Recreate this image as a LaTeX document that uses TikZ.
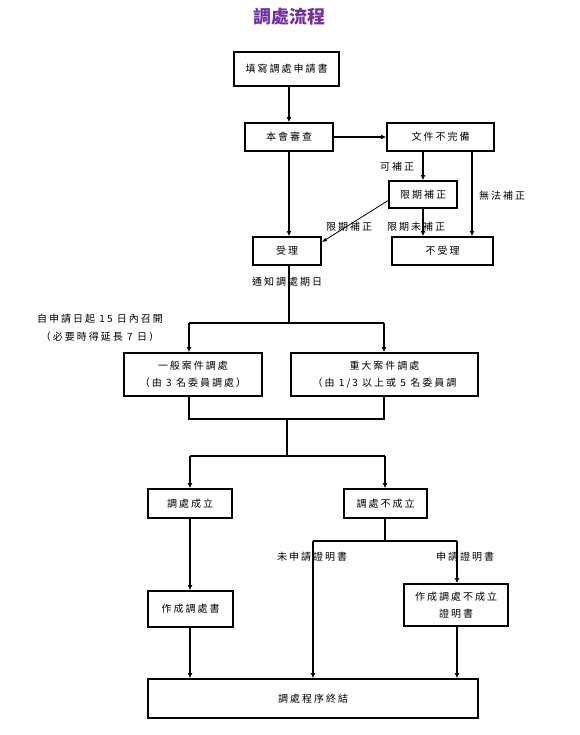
\documentclass[tikz,border=0pt]{standalone}
\usepackage{fontspec}
\usetikzlibrary{arrows.meta}
\newfontfamily\cjk[LetterSpace=20]{Noto Sans CJK TC}
\newfontfamily\cjktitle{Noto Sans CJK TC}
\definecolor{titlepurple}{HTML}{7030A0}
\begin{document}
\begin{tikzpicture}[x=1pt,y=-1pt,
  box/.style={draw,line width=1.8pt,inner sep=0pt,align=center,
    font=\cjk\fontsize{10}{17}\selectfont},
  lbl/.style={inner sep=0pt,align=center,font=\cjk\fontsize{10}{18}\selectfont},
  conn/.style={line width=1.3pt},
  arr/.style={conn,-{Latex[length=5pt,width=5pt]}},
  thinarr/.style={line width=0.8pt,-{Latex[length=5pt,width=4pt]}}]
\useasboundingbox (0,0) rectangle (579,735);
% title
\node[inner sep=0pt,text=titlepurple,font=\cjktitle\bfseries\fontsize{18}{20}\selectfont] (title) at (289,17) {調處流程};
% boxes
\node[box,minimum width=105pt,minimum height=34pt] (fill) at (286.5,69) {填寫調處申請書};
\node[box,minimum width=88pt,minimum height=28pt] (review) at (289,137) {本會審查};
\node[box,minimum width=107pt,minimum height=28pt] (incomplete) at (440.5,137) {文件不完備};
\node[box,minimum width=68pt,minimum height=27pt] (correct) at (423,194.5) {限期補正};
\node[box,minimum width=101pt,minimum height=28pt] (reject) at (442.5,251) {不受理};
\node[box,minimum width=68pt,minimum height=28pt] (accept) at (287,251) {受理};
\node[box,minimum width=138pt,minimum height=43pt] (general) at (193,374.5) {一般案件調處\\（由 3 名委員調處）};
\node[box,minimum width=187pt,minimum height=43pt] (major) at (384.5,374.5) {重大案件調處\\（由 1/3 以上或 5 名委員調};
\node[box,minimum width=84pt,minimum height=29pt] (success) at (190,503.5) {調處成立};
\node[box,minimum width=83pt,minimum height=29pt] (fail) at (385.5,503.5) {調處不成立};
\node[box,minimum width=85pt,minimum height=36pt] (makebook) at (190.5,609) {作成調處書};
\node[box,minimum width=104pt,minimum height=42pt] (certbook) at (456,605) {作成調處不成立\\證明書};
\node[box,minimum width=330pt,minimum height=39pt] (end) at (313,698.5) {調處程序終結};
% labels
\node[lbl] (lcan) at (397,167) {可補正};
\node[lbl] (lnofix) at (502,196) {無法補正};
\node[lbl] (ldiag) at (349,227) {限期補正};
\node[lbl] (lnot) at (416,227) {限期未補正};
\node[lbl] (lnotify) at (287,282) {通知調處期日};
\node[lbl,font=\cjk\fontsize{10}{18}\selectfont] (ldays) at (100,328) {自申請日起 15 日內召開\\（必要時得延長 7 日）};
\node[lbl] (lnocert) at (312,557) {未申請證明書};
\node[lbl] (lcert) at (465,557) {申請證明書};
% coordinates
\coordinate (split1) at (289,323);
\coordinate (gL) at (189,323);
\coordinate (gR) at (384,323);
\coordinate (mL) at (189,419);
\coordinate (mR) at (384,419);
\coordinate (mC) at (287,419);
\coordinate (s2) at (287,456);
\coordinate (sL) at (190,456);
\coordinate (sR) at (385,456);
\coordinate (f2) at (385,541);
\coordinate (fL) at (313,541);
\coordinate (fR) at (457,541);
\coordinate (nofix) at (472,151);
% connectors
\draw[arr] (fill.south -| review.south) -- (review.north);
\draw[arr] (review.east) -- (incomplete.west);
\draw[arr] (correct.north |- incomplete.south) -- (correct.north);
\draw[arr] (correct.south) -- (correct.south |- reject.north);
\draw[arr] (nofix) -- (nofix |- reject.north);
\draw[thinarr] ([yshift=-6pt]correct.west) -- ([yshift=-6pt]accept.north east);
\draw[arr] (review.south) -- (review.south |- accept.north);
\draw[conn] (review.south |- accept.south) -- (split1);
\draw[conn] (gL) -- (gR);
\draw[arr] (gL) -- (gL |- general.north);
\draw[arr] (gR) -- (gR |- major.north);
\draw[conn] (mL |- general.south) -- (mL) -- (mR) -- (mR |- major.south);
\draw[conn] (mC) -- (s2);
\draw[conn] (sL) -- (sR);
\draw[arr] (sL) -- (success.north);
\draw[arr] (sR) -- (sR |- fail.north);
\draw[arr] (success.south) -- (makebook.north -| success.south);
\draw[arr] (makebook.south -| success.south) -- (success.south |- end.north);
\draw[conn] (fail.south -| f2) -- (f2);
\draw[conn] (fL) -- (fR);
\draw[arr] (fR) -- (fR |- certbook.north);
\draw[arr] (fL) -- (fL |- end.north);
\draw[arr] (fR |- certbook.south) -- (fR |- end.north);
\end{tikzpicture}
\end{document}
